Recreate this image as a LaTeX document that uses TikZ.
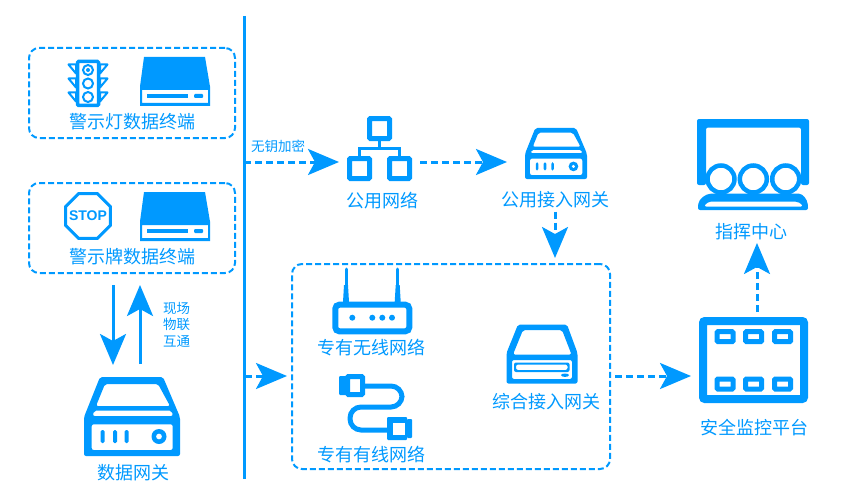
\documentclass[tikz,border=0pt]{standalone}
\usepackage{fontspec}
\setmainfont{Noto Sans CJK SC}
\newfontfamily\stopfont{Liberation Sans}
\usetikzlibrary{positioning,arrows.meta,shapes.geometric}
\definecolor{netblue}{HTML}{0099FF}
\begin{document}
\begin{tikzpicture}[x=1pt,y=-1pt,
	label/.style={text=netblue,inner sep=0pt,font=\fontsize{18}{20}\selectfont},
	smalllabel/.style={text=netblue,inner sep=0pt,font=\fontsize{13.5}{15}\selectfont},
	groupbox/.style={draw=netblue,line width=2pt,dash pattern=on 6pt off 3pt,rounded corners=10pt,inner sep=0pt,outer sep=0pt},
	iconbox/.style={inner sep=0pt,outer sep=0pt},
	flow/.style={draw=netblue,line width=3pt,-{Stealth[length=31pt,width=26pt,inset=7pt]}},
	dashflow/.style={flow,dash pattern=on 7pt off 4pt},
	slot/.style={draw=netblue,line width=5pt,rounded corners=1pt},
	pics/gateway/.style={code={
		\fill[netblue,even odd rule,rounded corners=2pt] (-32,-39.5) -- (31,-39.5) -- (48,0.5) -- (48,39.5) -- (-48,39.5) -- (-48,0.5) -- cycle
			(-27,-32.5) -- (26,-32.5) -- (38,-10.5) -- (-36,-10.5) -- cycle
			(-38,-5.8) -- (39.7,-5.8) -- (41,-0.5) -- (-39.3,-0.5) -- cycle
			(-40.3,7.8) rectangle (40.7,33.5);
		\foreach \x in {-29.3,-17,-5.3}
			\fill[netblue,rounded corners=1.5pt] ({\x-2},13.5) rectangle ({\x+2},26.5);
		\fill[netblue,even odd rule] (27,20) circle (7.5) (27,20) circle (3);
	}},
	pics/drive/.style={code={
		\fill[netblue,even odd rule] (-31,-24.5) -- (30,-24.5) -- (35,5) -- (35,24.5) -- (-35,24.5) -- (-35,5) -- cycle
			(-33,8.5) rectangle (33,21.5);
		\fill[netblue] (-28,12.5) rectangle (13,16.5);
		\fill[netblue,rounded corners=1pt] (19,12.5) rectangle (28,16.5);
	}}]
	\useasboundingbox (0,0) rectangle (850,500);

	\draw[netblue,line width=3pt] (244,16) -- (244,479);

	\node[groupbox,minimum width=206pt,minimum height=90pt]		(lightbox)	at (132,93)		{};
	\node[groupbox,minimum width=206pt,minimum height=90pt]		(signbox)	at (132,228)	{};
	\node[groupbox,minimum width=318pt,minimum height=205pt]	(privatebox)	at (451,366.5)	{};

	\node[label]	(lightlabel)	at (132,122)	{警示灯数据终端};
	\node[label]	(signlabel)		at (132,257)	{警示牌数据终端};
	\node[label]	(datalabel)		at (133,472.5)	{数据网关};
	\node[label]	(publabel)		at (382,201)	{公用网络};
	\node[label]	(accesslabel)	at (555,200)	{公用接入网关};
	\node[label]	(wifilabel)		at (371,348)	{专有无线网络};
	\node[label]	(wirelabel)		at (371,455)	{专有有线网络};
	\node[label]	(mixlabel)		at (546,401.5)	{综合接入网关};
	\node[label]	(platlabel)		at (754,428)	{安全监控平台};
	\node[label]	(cmdlabel)		at (751,231.5)	{指挥中心};
	\node[smalllabel]	(keylabel)	at (278,146)	{无钥加密};
	\node[smalllabel]	(iotlabel1)	at (176.5,308)	{现场};
	\node[smalllabel]	(iotlabel2)	at (176.5,324.5)	{物联};
	\node[smalllabel]	(iotlabel3)	at (176.5,341.5)	{互通};

	% terminals
	\draw[netblue,line width=3.5pt,rounded corners=1pt] (77.5,61.5) rectangle (98.5,105.5);
	\foreach \y in {70,83.5,97} \draw[netblue,line width=2pt] (88,\y) circle (5);
	\fill[netblue] (88,70) circle (2);
	\foreach \y in {64.5,78.5,92.5} {
		\draw[netblue,line width=2pt,line join=round] (76,\y) -- (68.5,\y) -- (76,{\y+9}) -- cycle;
		\draw[netblue,line width=2pt,line join=round] (100,\y) -- (107.5,\y) -- (100,{\y+9}) -- cycle;
	}
	\pic at (175,81.5) {drive};
	\node[draw=netblue,line width=3pt,regular polygon,regular polygon sides=8,minimum size=48.5pt,inner sep=0pt] (stopsign) at (88,216) {};
	\node[text=netblue,inner sep=0pt,font=\stopfont\bfseries\fontsize{14}{14}\selectfont] (stoptext) at (stopsign) {STOP};
	\pic at (175,216.5) {drive};

	% data gateway
	\node[iconbox,minimum width=96pt,minimum height=79pt] (datagw) at (132,416.5) {};
	\pic at (datagw) {gateway};
	\coordinate (downx) at (113,0);
	\coordinate (upx) at (140,0);
	\draw[flow,shorten <=12pt,shorten >=12pt] (downx |- signbox.south) -- (downx |- datagw.north);
	\draw[flow,shorten <=13pt,shorten >=12pt] (upx |- datagw.north) -- (upx |- signbox.south);

	% public network
	\node[iconbox,minimum width=65pt,minimum height=65pt] (pubnet) at (379.5,148.5) {};
	\foreach \x/\y in {379.5/128.5,359.5/168.5,399.5/168.5}
		\draw[netblue,line width=5pt,rounded corners=1pt] ({\x-10},{\y-10}) rectangle ({\x+10},{\y+10});
	\draw[netblue,line width=2.5pt] (379.5,141) -- (379.5,148.5) (359.5,156) -- (359.5,148.5) -- (399.5,148.5) -- (399.5,156);
	\node[iconbox,minimum width=62pt,minimum height=51pt] (accessgw) at (556,153.5) {};
	\pic[scale=.646] at (accessgw) {gateway};

	% private network
	\draw[netblue,line width=3pt,line cap=round] (346,269) -- (346,302);
	\draw[netblue,line width=3pt,line cap=round] (397.7,269) -- (397.7,302);
	\fill[netblue] (344,285) -- (348,285) -- (349,302) -- (343,302) -- cycle (395.7,285) -- (399.7,285) -- (400.7,302) -- (394.7,302) -- cycle;
	\draw[netblue,line width=6pt,rounded corners=4pt] (335.3,304.7) rectangle (409.3,331.3);
	\foreach \x in {352.3,372.3,382.3,392} \fill[netblue] (\x,317.7) circle (3);

	\draw[netblue,line width=5pt,rounded corners=11pt] (364,386) -- (402,386) -- (402,407) -- (350,407) -- (350,430) -- (388,430);
	\fill[netblue,rounded corners=1pt] (339,376) rectangle (346,395) (387,417) rectangle (407,440) (407,419) rectangle (412,438);
	\draw[netblue,line width=5pt,rounded corners=1pt] (347.5,376.5) rectangle (362.5,394.5);
	\fill[white] (392.5,423) rectangle (404.5,435);

	\fill[netblue,even odd rule,rounded corners=2pt] (518,324.5) -- (567,324.5) -- (577.5,353) -- (577.5,383.5) -- (506.5,383.5) -- (506.5,353) -- cycle
		(523,330) -- (562,330) -- (571.5,354.5) -- (513,354.5) -- cycle
		(512,360) rectangle (572,379);
	\fill[netblue,rounded corners=2pt,even odd rule] (514,362.5) rectangle (569.5,372) (516,364.5) rectangle (567.5,370);
	\fill[netblue] (565,375.2) ellipse (4 and 1.7);

	% platform and command centre
	\node[draw=netblue,line width=8pt,rounded corners=2pt,inner sep=0pt,minimum width=101pt,minimum height=78pt] (platform) at (753.5,360) {};
	\foreach \x in {725,753.5,782.5} \foreach \y in {336.7,384}
		\draw[slot] ({\x-8},{\y-5}) rectangle ({\x+8},{\y+5});

	\node[iconbox,minimum width=112pt,minimum height=91pt] (command) at (753,164.5) {};
	\fill[netblue,even odd rule,rounded corners=2pt] (697,119) -- (809,119) -- (809,185) -- (801,185) -- (801,127.5) -- (706,127.5) -- (706,185) -- (697,185) -- cycle;
	\fill[netblue,even odd rule,rounded corners=2pt] (698,210) -- (698,206) .. controls (699,199) and (705,194) .. (713,193.5) -- (797,193.5) .. controls (803,194) and (807,199) .. (808,206) -- (808,210) -- cycle
		(704,206.5) .. controls (706,203.5) and (709,201.5) .. (713,201.5) -- (793,201.5) .. controls (798,201.5) and (801,203.5) .. (803,206.5) -- cycle;
	\foreach \x in {721,753.3,785.7}
		\draw[netblue,line width=4.5pt,fill=white] (\x,179) circle (13.5);

	% flows
	\coordinate (bustop) at (244,162);
	\coordinate (busmid) at (245,376);
	\coordinate (cmdx) at (757,0);
	\draw[dashflow,shorten >=8pt] (bustop) -- (bustop -| pubnet.west);
	\draw[dashflow,shorten <=8pt,shorten >=18pt] (bustop -| pubnet.east) -- (bustop -| accessgw.west);
	\draw[dashflow,shorten <=3pt,shorten >=6pt] (accesslabel.south) -- (accesslabel.south |- privatebox.north);
	\draw[dashflow,shorten >=5pt] (busmid) -- (busmid -| privatebox.west);
	\draw[dashflow,shorten <=5pt,shorten >=8pt] (privatebox.east |- busmid) -- (busmid -| platform.west);
	\draw[dashflow,shorten <=5pt,shorten >=3pt] (cmdx |- platform.north) -- (cmdx |- cmdlabel.south);
\end{tikzpicture}
\end{document}
